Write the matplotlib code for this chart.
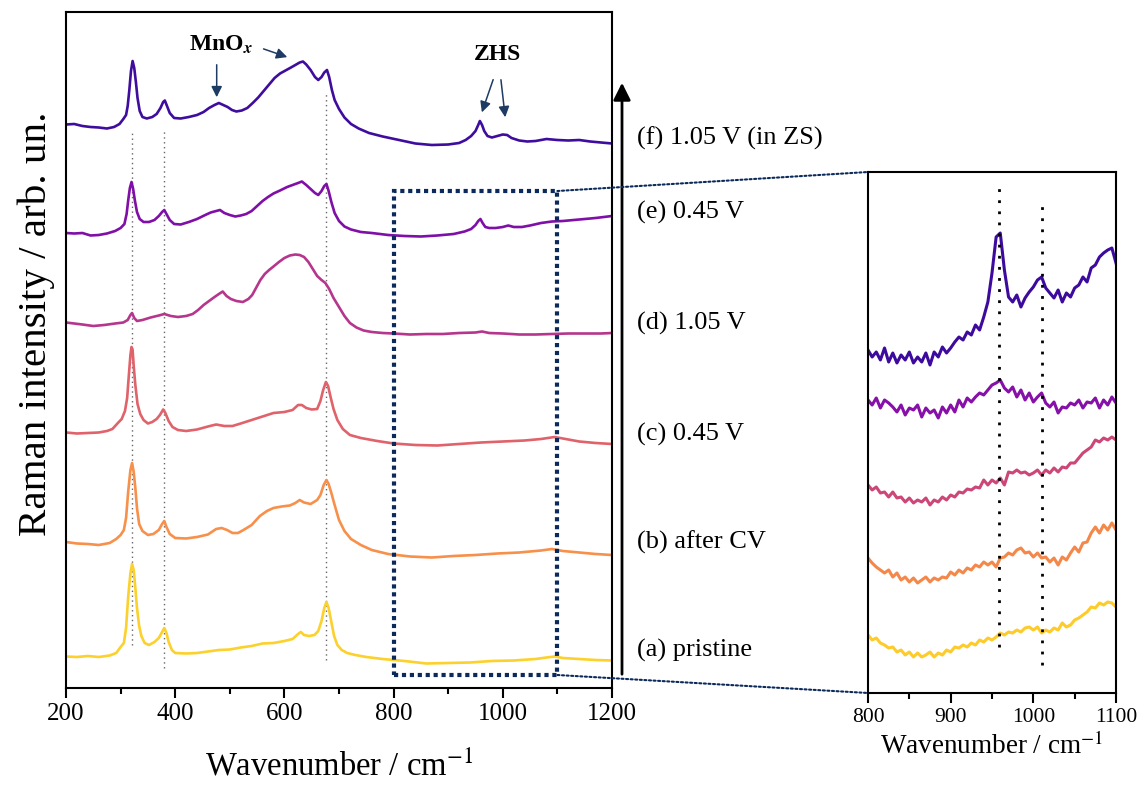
import numpy as np
import matplotlib.pyplot as plt
from matplotlib.patches import Rectangle, ConnectionPatch, FancyArrowPatch
from matplotlib.ticker import MultipleLocator

plt.rcParams['font.family'] = 'serif'
plt.rcParams['font.serif'] = ['Liberation Serif', 'DejaVu Serif']
plt.rcParams['mathtext.fontset'] = 'stix'

# Raman spectra, already offset for stacking (arb. un.)
wn_a = [200, 220, 240, 260, 280, 292, 300, 306, 310, 314, 318, 321, 324, 327, 330,
        334, 338, 344, 352, 362, 370, 376, 380, 384, 388, 394, 400, 420, 440, 460,
        480, 500, 520, 540, 560, 580, 600, 615, 625, 630, 636, 645, 655, 662, 668,
        673, 677, 681, 686, 691, 697, 705, 715, 730, 750, 780, 820, 860, 900, 940,
        980, 1020, 1060, 1080, 1095, 1110, 1140, 1170, 1200]
int_a = [31.5, 31, 32, 31, 32.5, 35, 41, 45, 60, 92, 115, 124, 118, 100, 80,
         62, 52, 45, 43, 46, 50, 56, 60, 55, 46, 38, 35, 34.5, 35, 36.5,
         38, 38.5, 40.5, 42, 44.5, 45, 47, 49, 54, 56, 53, 52, 53, 57, 67,
         80, 86, 80, 66, 52, 43, 38, 35, 33, 31, 29, 27, 24.5, 25, 25.5,
         27, 27.5, 29, 30.5, 31.5, 30, 29, 28, 27.5]

wn_b = [200, 220, 240, 260, 280, 292, 300, 306, 310, 314, 318, 321, 324, 327, 330,
        334, 340, 350, 360, 370, 376, 380, 384, 390, 400, 420, 440, 460, 475, 485,
        495, 505, 515, 525, 540, 555, 568, 580, 595, 610, 620, 628, 636, 648, 660,
        666, 672, 677, 681, 686, 692, 700, 710, 722, 740, 760, 790, 830, 870, 910,
        950, 990, 1030, 1070, 1090, 1110, 1140, 1170, 1200]
int_b = [146, 144.5, 144, 143, 145, 149, 153, 158, 170, 197, 218, 225, 216, 200, 180,
         164, 157, 153, 154, 158, 164, 167, 161, 154, 150, 149.5, 151, 153.5, 159, 160,
         158, 155, 155, 158, 163, 172, 177, 180, 181.5, 182.5, 185, 188, 185.5, 184, 188,
         193, 203, 208, 204, 195, 183, 168, 157, 149, 143, 138, 134, 131.5, 130.5, 132,
         133, 134.5, 135.5, 137.5, 139, 137, 135.5, 134, 133]

wn_c = [200, 220, 240, 260, 275, 285, 295, 302, 308, 312, 315, 318, 320, 322, 324,
        327, 331, 336, 342, 350, 358, 366, 372, 378, 382, 388, 395, 405, 420, 440,
        460, 475, 490, 505, 520, 540, 560, 580, 600, 615, 625, 632, 640, 650, 660,
        666, 671, 676, 680, 685, 690, 697, 707, 720, 740, 770, 800, 840, 880, 920,
        960, 1000, 1040, 1070, 1095, 1110, 1140, 1170, 1200]
int_c = [255.5, 254.5, 255, 255.5, 257, 259, 265, 269, 277, 290, 312, 333, 341, 338, 322,
         303, 284, 274, 268, 264.5, 266, 269, 273, 278.5, 275, 267, 261, 258, 257, 258.5,
         261.5, 263.5, 262, 262, 264.5, 268, 271.5, 275, 276, 278, 283, 283, 280, 278.5, 279,
         287, 298, 306, 302, 290, 279, 268, 259, 253, 250, 247, 244.5, 243, 242.5, 244,
         245.5, 246.5, 247.5, 249, 251, 249.5, 246.5, 245, 244]

wn_d = [200, 215, 230, 250, 270, 290, 305, 313, 318, 321, 325, 330, 340, 355, 370,
        380, 392, 405, 420, 432, 442, 452, 462, 472, 480, 487, 494, 502, 512, 524,
        534, 541, 548, 556, 564, 572, 580, 590, 600, 610, 620, 628, 636, 644, 652,
        660, 668, 675, 682, 690, 700, 710, 720, 732, 745, 760, 780, 800, 830, 860,
        890, 920, 950, 962, 975, 1000, 1030, 1060, 1090, 1120, 1150, 1180, 1200]
int_d = [365.5, 364.5, 363.5, 362, 363, 364.5, 365.5, 368, 373, 375, 370, 367, 368, 370.5, 372.5,
         374, 372, 371, 372, 374, 378, 383, 387, 391, 394, 396.5, 392, 389, 387, 386,
         389, 393, 400, 408, 414, 418, 421.5, 426, 430, 432.5, 433.5, 433, 431, 426, 419,
         412, 408, 405, 399, 390, 381, 372, 365, 360.5, 357.5, 356, 355, 354.5, 353.5, 354,
         354, 355, 355.5, 356.5, 355, 354.5, 353.5, 353.5, 354, 354.5, 354.5, 354.5, 355]

wn_e = [200, 215, 230, 245, 260, 275, 290, 300, 307, 311, 314, 317, 320, 323, 326,
        330, 335, 342, 352, 362, 370, 376, 380, 384, 390, 398, 410, 425, 440, 455,
        465, 475, 482, 490, 500, 510, 520, 530, 540, 550, 560, 570, 580, 592, 605,
        615, 625, 632, 640, 648, 656, 662, 668, 673, 677, 681, 686, 692, 700, 710,
        722, 740, 760, 790, 820, 850, 880, 910, 930, 942, 950, 955, 959, 963, 968,
        975, 987, 1000, 1010, 1020, 1035, 1050, 1070, 1090, 1110, 1130, 1150, 1170, 1185, 1200]
int_e = [455, 454.5, 455, 452.5, 453, 454.5, 457, 460, 464, 474, 488, 500, 506, 499, 488,
         476, 469, 466, 466, 468, 472, 476, 478, 474, 468, 464, 463.5, 466, 469, 473,
         475.5, 477, 478, 475, 473, 471.5, 472.5, 474, 477, 482, 487, 491, 494.5, 497.5, 501,
         503, 505, 506.5, 503, 499, 495, 493, 497, 502, 504, 497, 486, 475, 467, 461.5,
         458.5, 456, 455, 453, 452, 451.5, 452.5, 454, 456.5, 459, 463, 467, 469, 465, 461,
         460, 460, 461, 462.5, 461, 461, 462.5, 465, 466.5, 467, 468, 469, 470, 471, 472]

wn_f = [200, 215, 230, 245, 260, 275, 288, 298, 305, 310, 313, 316, 319, 322, 325,
        328, 331, 335, 340, 348, 358, 366, 373, 378, 381, 385, 390, 398, 410, 425,
        440, 452, 462, 472, 480, 488, 496, 504, 512, 522, 532, 542, 552, 562, 572,
        582, 592, 602, 612, 620, 628, 634, 640, 648, 656, 662, 668, 673, 678, 682,
        687, 692, 700, 710, 722, 736, 755, 780, 810, 840, 870, 900, 920, 932, 942,
        950, 955, 958, 962, 966, 972, 980, 990, 1000, 1008, 1016, 1030, 1045, 1060, 1080,
        1100, 1120, 1140, 1160, 1180, 1200]
int_f = [563.5, 564, 562, 561, 560.5, 559.5, 561, 564, 569, 573, 582, 598, 617, 627, 620,
         606, 590, 577, 571, 569.5, 571, 574, 580, 586, 587.5, 582, 575, 570, 569.5, 571,
         573, 576, 580, 583, 585, 583, 581, 578, 576.5, 577.5, 580, 585, 590.5, 597, 603.5,
         610, 614.5, 617.5, 620.5, 623, 625.5, 626.5, 623.5, 618, 611, 608, 611, 615.5, 618, 611,
         598, 588, 579, 570.5, 564, 559.5, 555, 551.5, 548, 544.5, 543, 543.5, 545, 548, 552,
         557, 563, 567, 563, 557, 552, 550.5, 552, 553.5, 553, 550, 547.5, 546.5, 547, 549,
         548, 547.5, 548, 546.5, 545.5, 544.5]

labels = ['(a) pristine', '(b) after CV', '(c) 0.45 V', '(d) 1.05 V', '(e) 0.45 V', '(f) 1.05 V (in ZS)']
label_y = [650, 542, 434, 323, 212, 138]   # pixel rows of the labels
colors = ['#fcd12b', '#f7904a', '#e0626a', '#b5368c', '#7f0fa6', '#3f0d9e']

# peak positions marked in the main panel
peaks = [320, 380, 677]
peak_lo = [43, 20, 28]
peak_hi = [558, 558, 595]

# zoomed 800-1100 region, scaled up
inset_wn = np.arange(800, 1105, 5)
inset_a = [58, 53, 55, 50, 48, 45, 46, 41, 43, 38,
           41, 36, 40, 36, 38, 41, 36, 40, 38, 43,
           41, 46, 45, 48, 46, 50, 48, 53, 51, 55,
           53, 56, 60, 58, 61, 60, 63, 61, 65, 66,
           63, 66, 60, 63, 61, 65, 63, 70, 66, 68,
           73, 75, 78, 81, 86, 85, 90, 88, 91, 90,
           86]
inset_b = [135, 130, 126, 123, 120, 123, 116, 120, 113, 116,
           111, 115, 110, 113, 116, 111, 115, 113, 116, 115,
           121, 118, 123, 120, 125, 123, 128, 126, 131, 128,
           131, 126, 135, 136, 140, 138, 143, 145, 140, 141,
           136, 140, 135, 136, 131, 135, 128, 136, 133, 140,
           146, 141, 150, 151, 160, 166, 160, 168, 163, 170,
           163]
inset_d = [208, 203, 206, 200, 201, 196, 201, 195, 196, 191,
           195, 190, 193, 191, 195, 188, 193, 191, 196, 193,
           198, 196, 201, 200, 204, 203, 206, 205, 213, 208,
           213, 210, 215, 208, 221, 220, 223, 220, 221, 218,
           220, 223, 218, 223, 220, 225, 221, 226, 225, 230,
           230, 235, 240, 243, 246, 253, 251, 255, 253, 256,
           253]
inset_e = [293, 288, 295, 285, 293, 290, 286, 281, 288, 278,
           285, 283, 288, 276, 285, 280, 283, 275, 286, 280,
           288, 281, 293, 286, 295, 291, 296, 300, 298, 303,
           308, 310, 313, 305, 301, 306, 296, 303, 293, 300,
           291, 296, 300, 290, 286, 291, 280, 286, 285, 290,
           288, 293, 285, 291, 290, 295, 285, 293, 288, 296,
           290]
inset_f = [343, 336, 341, 333, 345, 331, 340, 330, 338, 333,
           341, 330, 336, 331, 340, 328, 341, 336, 346, 340,
           345, 351, 356, 353, 361, 358, 368, 363, 376, 391,
           420, 456, 460, 423, 396, 391, 398, 386, 395, 401,
           406, 413, 416, 405, 400, 395, 403, 391, 400, 396,
           405, 408, 416, 411, 425, 428, 436, 440, 443, 445,
           430]
inset_colors = ['#fdcb2a', '#f3884a', '#cc4778', '#8710a8', '#3d0a9e']
zhs_peaks = [958, 1010]
zhs_lo = [46, 28]
zhs_hi = [506, 488]

navy = '#0b2a5b'
W, H = 1142, 785

fig = plt.figure(figsize=(W / 100, H / 100), dpi=100)
ax = fig.add_axes([66 / W, 1 - 688 / H, 546 / W, 676 / H])

for wn, val, col in zip([wn_a, wn_b, wn_c, wn_d, wn_e, wn_f],
                        [int_a, int_b, int_c, int_d, int_e, int_f], colors):
    ax.plot(wn, val, color=col, lw=1.9, solid_joinstyle='round')

for p, lo, hi in zip(peaks, peak_lo, peak_hi):
    ax.plot([p, p], [lo, hi], color='#666666', lw=1.0, ls=(0, (1, 2.5)), zorder=1)

ax.set_xlim(200, 1200)
ax.set_ylim(0, 676)
ax.set_yticks([])
ax.xaxis.set_major_locator(MultipleLocator(200))
ax.xaxis.set_minor_locator(MultipleLocator(100))
ax.tick_params(axis='x', which='major', direction='out', length=7, width=1.5,
               labelsize=18, pad=4)
ax.tick_params(axis='x', which='minor', direction='out', length=4, width=1.5)
for s in ax.spines.values():
    s.set_linewidth(1.5)
ax.set_xlabel(r'Wavenumber / cm$^{-1}$', fontsize=23.5, labelpad=18)
ax.set_ylabel('Raman intensity / arb. un.', fontsize=29.5)
ax.yaxis.set_label_coords(-0.02, 0.539)

# MnOx and ZHS markers
arrow_kw = dict(arrowstyle='-|>', color='#1d3b63', lw=1.1, mutation_scale=16)
ax.text(483, 643, r'MnO$_\mathbfit{x}$', fontsize=17, fontweight='bold',
        ha='center', va='center')
ax.annotate('', xy=(476, 588), xytext=(476, 626), arrowprops=arrow_kw)
ax.annotate('', xy=(610, 630), xytext=(557, 640), arrowprops=arrow_kw)
ax.text(990, 633, 'ZHS', fontsize=17, fontweight='bold', ha='center', va='center')
ax.annotate('', xy=(960, 573), xytext=(984, 611), arrowprops=arrow_kw)
ax.annotate('', xy=(1005, 568), xytext=(996, 611), arrowprops=arrow_kw)

ax.add_patch(Rectangle((800, 13), 300, 484, fill=False, ec=navy, lw=3,
                       ls=(0, (1, 0.9)), zorder=5))

# stacking labels and arrow
for lab, y in zip(labels, label_y):
    fig.text(637 / W, 1 - y / H, lab, fontsize=19, va='center', ha='left')
fig.add_artist(FancyArrowPatch((622 / W, 1 - 677 / H), (622 / W, 1 - 80 / H),
                               transform=fig.transFigure, arrowstyle='-|>',
                               mutation_scale=26, lw=2, color='black'))

# inset
axin = fig.add_axes([868 / W, 1 - 693 / H, 248 / W, 521 / H])
for val, col in zip([inset_a, inset_b, inset_d, inset_e, inset_f], inset_colors):
    axin.plot(inset_wn, val, color=col, lw=2.2, solid_joinstyle='round')
for p, lo, hi in zip(zhs_peaks, zhs_lo, zhs_hi):
    axin.plot([p, p], [lo, hi], color='black', lw=2.0, ls=(0, (1, 3)))
axin.set_xlim(800, 1100)
axin.set_ylim(0, 521)
axin.set_yticks([])
axin.xaxis.set_major_locator(MultipleLocator(100))
axin.xaxis.set_minor_locator(MultipleLocator(50))
axin.tick_params(axis='x', which='major', direction='out', length=7, width=1.5,
                 labelsize=15.5, pad=4)
axin.tick_params(axis='x', which='minor', direction='out', length=4, width=1.5)
for s in axin.spines.values():
    s.set_linewidth(1.5)
axin.set_xlabel(r'Wavenumber / cm$^{-1}$', fontsize=19.5, labelpad=4)

for (xa, ya), (xb, yb) in [((1100, 497), (0, 1)), ((1100, 13), (0, 0))]:
    con = ConnectionPatch(xyA=(xa, ya), coordsA='data', axesA=ax,
                          xyB=(xb, yb), coordsB='axes fraction', axesB=axin,
                          color=navy, lw=1.5, ls=(0, (1, 1.2)))
    fig.add_artist(con)

fig.savefig('out.png', dpi=100)
